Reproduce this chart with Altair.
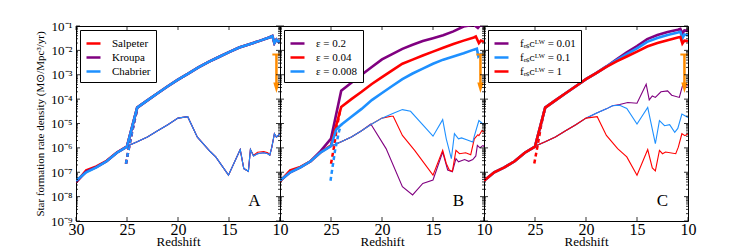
import altair as alt
import pandas as pd

FONT = "Liberation Serif"
RED = "#ff0000"
PURPLE = "#800080"
BLUE = "#1e90ff"
ORANGE = "#ff8c00"
W, H = 204, 195

# ---------------- data (log10 of SFR density) ----------------
# Panel A : IMF
A_labels = ["Salpeter", "Kroupa", "Chabrier"]
A_z_thick = [30, 29, 28, 27, 26, 25, 24, 23, 22, 21, 20, 19, 18, 17, 16, 15, 14, 13, 12, 11, 10.75, 10.55, 10.35, 10.15, 10.0]
A_salp_thick = [-7.42, -6.92, -6.76, -6.53, -6.19, -5.94, -4.35, -4.05, -3.76, -3.47, -3.2, -2.95, -2.7, -2.47, -2.27, -2.07, -1.88, -1.75, -1.61, -1.46, -1.41, -1.70, -1.56, -1.65, -1.6]
A_krou_thick = [-7.40, -6.97, -6.79, -6.55, -6.20, -5.95, -4.35, -4.05, -3.76, -3.47, -3.2, -2.95, -2.7, -2.47, -2.27, -2.07, -1.88, -1.75, -1.61, -1.46, -1.41, -1.70, -1.56, -1.65, -1.6]
A_chab_thick = [-7.35, -7.0, -6.8, -6.55, -6.2, -5.95, -4.35, -4.05, -3.76, -3.47, -3.2, -2.95, -2.7, -2.47, -2.27, -2.07, -1.88, -1.75, -1.61, -1.46, -1.41, -1.70, -1.56, -1.65, -1.6]
A_z_thin = [30, 29, 28, 27, 26, 25, 24, 23, 22, 21, 20, 19.05, 18.1, 16.8, 16.3, 15.05, 13.9, 13.55, 13.1, 12.9, 12.6, 12.2, 11.6, 11.2, 11.0, 10.8, 10.55, 10.35, 10.0]
A_salp_thin = [-7.42, -6.92, -6.76, -6.53, -6.19, -5.93, -5.75, -5.55, -5.3, -5.05, -4.78, -4.72, -5.56, -6.17, -6.37, -7.12, -6.07, -6.85, -6.96, -6.07, -6.30, -6.18, -6.15, -6.2, -6.3, -5.97, -5.42, -5.56, -5.42]
A_krou_thin = [-7.40, -6.97, -6.79, -6.55, -6.2, -5.93, -5.75, -5.55, -5.3, -5.05, -4.78, -4.72, -5.56, -6.17, -6.37, -7.12, -6.07, -6.85, -6.96, -6.07, -6.33, -6.24, -6.2, -6.24, -6.3, -5.97, -5.42, -5.56, -5.42]
A_chab_thin = [-7.35, -7.0, -6.8, -6.55, -6.2, -5.93, -5.75, -5.55, -5.3, -5.05, -4.78, -4.72, -5.56, -6.17, -6.37, -7.12, -6.07, -6.85, -6.96, -6.07, -6.33, -6.24, -6.2, -6.24, -6.3, -5.97, -5.42, -5.56, -5.42]
A_z_dash = [25.1, 24.7, 24.3, 24.0]
A_dash = [-6.65, -5.75, -4.95, -4.4]

# Panel B : star formation efficiency
B_labels = ["ε = 0.2", "ε = 0.04", "ε = 0.008"]
B_z_purple_thick = [30, 29, 28, 27, 26, 25, 24, 23, 22, 21, 20, 19, 18, 17, 16, 15, 14, 13, 12, 11, 10.6, 10.4, 10.0]
B_purple_thick = [-7.35, -7.0, -6.8, -6.55, -6.12, -5.62, -3.66, -3.33, -3.0, -2.68, -2.37, -2.15, -1.94, -1.77, -1.62, -1.5, -1.38, -1.22, -1.02, -0.95, -1.08, -0.98, -1.0]
B_z_red_thick = [30, 29, 28, 27, 26, 25, 24.5, 24, 23, 22, 21, 20, 19, 18, 17, 16, 15, 14, 13, 12, 11, 10.8, 10.5, 10.3, 10.0]
B_red_thick = [-7.38, -6.92, -6.78, -6.55, -6.18, -5.9, -5.1, -4.32, -4.0, -3.7, -3.38, -3.1, -2.82, -2.55, -2.38, -2.21, -2.05, -1.89, -1.74, -1.6, -1.47, -1.43, -1.70, -1.6, -1.65]
B_z_blue_thick = [30, 29, 28, 27, 26, 25, 24.5, 24, 23, 22, 21, 20, 19, 18, 17, 16, 15, 14, 13, 12, 11, 10.7, 10.55, 10.3, 10.0]
B_blue_thick = [-7.35, -7.0, -6.8, -6.55, -6.18, -5.93, -5.25, -5.05, -4.72, -4.4, -4.04, -3.75, -3.46, -3.18, -2.95, -2.75, -2.55, -2.38, -2.25, -2.12, -1.97, -1.93, -2.25, -2.15, -2.2]
B_z_purple_thin = [26, 25, 24, 23, 22, 21.1, 19.6, 18.0, 17.0, 16.0, 15.0, 14.05, 13.56, 13.1, 12.75, 12.5, 11.9, 11.5, 11.1, 10.8, 10.65, 10.4, 10.1, 10.0]
B_purple_thin = [-6.18, -5.93, -5.75, -5.55, -5.3, -5.02, -6.03, -7.59, -7.93, -7.46, -7.32, -6.17, -6.91, -6.98, -6.44, -6.57, -6.48, -6.55, -6.48, -6.33, -5.9, -6.0, -5.9, -5.95]
B_z_red_thin = [26, 25, 24, 23, 22, 21, 20, 19.1, 18.9, 18.0, 16.8, 15.0, 14.05, 13.7, 13.4, 13.1, 12.75, 12.4, 11.8, 11.3, 10.95, 10.6, 10.5, 10.2, 10.0]
B_red_thin = [-6.18, -5.93, -5.75, -5.55, -5.3, -5.02, -4.78, -4.70, -4.70, -5.49, -6.1, -7.12, -6.1, -6.64, -6.91, -6.96, -6.1, -6.24, -6.2, -6.28, -5.63, -5.46, -5.5, -5.29, -5.35]
B_z_blue_thin = [26, 25, 24, 23, 22, 21, 20, 19, 18.0, 17.2, 15.0, 14.05, 13.7, 13.2, 12.9, 12.5, 12.2, 11.7, 11.1, 10.95, 10.5, 10.1, 10.0]
B_blue_thin = [-6.18, -5.93, -5.75, -5.55, -5.3, -5.02, -4.78, -4.6, -4.43, -4.5, -5.52, -4.84, -5.63, -6.44, -5.42, -5.63, -5.59, -5.67, -5.76, -5.52, -4.88, -5.02, -5.0]
B_z_red_dash = [25.0, 24.7, 24.4, 24.1]
B_red_dash = [-6.65, -5.95, -5.1, -4.45]
B_z_blue_dash = [25.05, 24.6, 24.2, 24.0]
B_blue_dash = [-7.35, -6.1, -5.3, -5.05]

# Panel C : LW escape fraction
C_labels = ["fₑₛᴄᴸᵂ = 0.01", "fₑₛᴄᴸᵂ = 0.1", "fₑₛᴄᴸᵂ = 1"]
C_z_thick = [30, 29, 28, 27, 26, 25, 24, 23, 22, 21, 20, 19, 18, 17, 16, 15, 14, 13, 12, 11, 10.75, 10.55, 10.35, 10.0]
C_purple_thick = [-7.35, -7.0, -6.8, -6.55, -6.2, -5.95, -4.35, -4.05, -3.76, -3.47, -3.18, -2.93, -2.66, -2.37, -2.08, -1.82, -1.54, -1.37, -1.25, -1.15, -1.12, -1.30, -1.18, -1.2]
C_blue_thick = [-7.35, -7.0, -6.8, -6.55, -6.2, -5.95, -4.35, -4.05, -3.76, -3.47, -3.18, -2.93, -2.67, -2.40, -2.15, -1.92, -1.65, -1.49, -1.37, -1.27, -1.24, -1.50, -1.35, -1.38]
C_red_thick = [-7.35, -7.0, -6.8, -6.55, -6.2, -5.95, -4.35, -4.05, -3.76, -3.47, -3.18, -2.93, -2.68, -2.45, -2.25, -2.05, -1.84, -1.70, -1.58, -1.47, -1.45, -1.72, -1.6, -1.62]
C_z_red_thin = [26, 25, 24, 23, 22, 21, 20, 18.9, 18.0, 16.9, 16.0, 15.0, 13.95, 13.5, 13.2, 12.8, 12.5, 12.2, 11.2, 10.95, 10.6, 10.3, 10.0]
C_red_thin = [-6.2, -5.93, -5.75, -5.55, -5.3, -5.05, -4.78, -4.72, -5.49, -6.03, -6.37, -7.12, -6.07, -6.82, -6.94, -6.1, -6.24, -6.17, -6.24, -5.97, -5.42, -5.5, -5.42]
C_z_blue_thin = [26, 25, 24, 23, 22, 21, 20, 19, 18, 17.4, 16.7, 16.0, 15.0, 13.95, 13.2, 12.8, 12.3, 11.8, 11.3, 11.0, 10.6, 10.3, 10.0]
C_blue_thin = [-6.2, -5.93, -5.75, -5.55, -5.3, -5.05, -4.78, -4.58, -4.4, -4.27, -4.25, -4.38, -5.02, -4.34, -5.83, -4.88, -5.09, -5.05, -5.36, -5.2, -4.61, -4.68, -4.75]
C_z_purple_thin = [26, 25, 24, 23, 22, 21, 20, 19, 18, 17.4, 16.7, 15.9, 15.0, 14.1, 13.8, 13.5, 13.2, 12.65, 12.0, 11.6, 10.85, 10.5, 10.2, 10.0]
C_purple_thin = [-6.2, -5.93, -5.75, -5.55, -5.3, -5.05, -4.78, -4.58, -4.4, -4.27, -4.22, -4.14, -4.17, -3.39, -4.03, -3.87, -3.93, -3.70, -3.66, -3.84, -3.93, -3.39, -3.46, -3.45]
C_z_dash = [25.07, 24.7, 24.4, 24.1]
C_dash = [-6.64, -5.8, -5.08, -4.5]

# observational upper limit (orange)
LIM_z = [10.35]
LIM_top = [-2.17]
LIM_shaft = [-3.35]
LIM_head = [-3.53]
LIM_cap = [10.75, 9.95]

LETTER_z = [12.5]
LETTER_y = [-8.17]

Y_MAJOR = [-9, -8, -7, -6, -5, -4, -3, -2, -1]
X_A_TICKS = [30, 25, 20, 15, 10]
X_BC_TICKS = [25, 20, 15, 10]


def df(z, logv, name):
    return pd.DataFrame({"z": z, "sfr": [10.0 ** v for v in logv], "series": name})


xscale = alt.Scale(domain=[10, 30], reverse=True, nice=False, zero=False)
yscale = alt.Scale(type="log", domain=[1e-9, 1e-1], nice=False)

sup = "['⁻¹','⁻²','⁻³','⁻⁴','⁻⁵','⁻⁶','⁻⁷','⁻⁸','⁻⁹']"
y_axis_A = alt.Axis(
    values=[10.0 ** e for e in Y_MAJOR],
    labelExpr="'10' + " + sup + "[round(-log(datum.value)/LN10) - 1]",
    title="Star formation rate density (M⊙/Mpc³/yr)",
    ticks=False, tickSize=0, domain=False, grid=False,
    labelFont=FONT, labelFontSize=13, labelColor="black", labelPadding=4,
    titleFont=FONT, titleFontSize=11, titleFontWeight="normal", titleColor="black", titlePadding=5,
)

minor_vals = [k * 10.0 ** e for e in range(-9, -1) for k in range(2, 10)]
major_vals = [10.0 ** e for e in Y_MAJOR]


def x_axis(vals):
    return alt.Axis(
        values=vals, format="d", title="Redshift",
        ticks=False, tickSize=0, domain=False, grid=False,
        labelFont=FONT, labelFontSize=16, labelColor="black", labelPadding=0,
        labelFlush=False, labelOverlap=False, labelBound=False,
        titleFont=FONT, titleFontSize=13, titleFontWeight="normal", titleColor="black",
        titleY=24, titleBaseline="alphabetic",
    )


def panel(labels, colors, thin, thick, dashed, letter, xvals, show_y):
    xa = x_axis(xvals)
    ya = y_axis_A if show_y else None
    X = lambda f="z": alt.X(f + ":Q", scale=xscale, axis=xa)
    Y = lambda f="sfr": alt.Y(f + ":Q", scale=yscale, axis=ya)
    legend = alt.Legend(
        title=None, orient="top-left", offset=4, padding=5,
        strokeColor="black", fillColor="white", cornerRadius=0,
        symbolType="stroke", symbolSize=196, symbolStrokeWidth=2.5,
        labelFont=FONT, labelFontSize=11, labelColor="black", labelOffset=10,
        rowPadding=0, labelLimit=200,
    )
    color = alt.Color("series:N", scale=alt.Scale(domain=labels, range=colors), legend=legend)
    layers = []
    for d in thin:
        layers.append(alt.Chart(d).mark_line(strokeWidth=1.1, clip=True).encode(x=X(), y=Y(), color=color))
    for d in dashed:
        layers.append(alt.Chart(d).mark_line(strokeWidth=2.5, strokeDash=[4, 3], clip=True).encode(x=X(), y=Y(), color=color))
    for d in thick:
        layers.append(alt.Chart(d).mark_line(strokeWidth=2.6, clip=True).encode(x=X(), y=Y(), color=color))

    lim = pd.DataFrame({"z": LIM_z, "top": [10.0 ** v for v in LIM_top],
                        "shaft": [10.0 ** v for v in LIM_shaft], "head": [10.0 ** v for v in LIM_head],
                        "c0": [LIM_cap[0]], "c1": [LIM_cap[1]]})
    layers.append(alt.Chart(lim).mark_rule(color=ORANGE, strokeWidth=2.5).encode(x=X(), y=Y("top"), y2="shaft:Q"))
    layers.append(alt.Chart(lim).mark_rule(color=ORANGE, strokeWidth=2, clip=True).encode(x=X("c0"), x2="c1:Q", y=Y("top")))
    layers.append(alt.Chart(lim).mark_point(shape="M-0.6,-1L0.6,-1L0,1Z", filled=True, color=ORANGE, opacity=1,
                                            size=110, strokeWidth=0).encode(x=X(), y=Y("head")))

    let = pd.DataFrame({"z": LETTER_z, "sfr": [10.0 ** v for v in LETTER_y], "t": [letter]})
    layers.append(alt.Chart(let).mark_text(font=FONT, fontSize=17, color="black", align="center",
                                           baseline="middle").encode(x=X(), y=Y(), text="t:N"))

    # inward tick marks on all four sides
    ymaj = pd.DataFrame({"v": major_vals})
    ymin = pd.DataFrame({"v": minor_vals})
    xt = pd.DataFrame({"z": X_A_TICKS})
    for dd, ln in ((ymaj, 4), (ymin, 2)):
        layers.append(alt.Chart(dd).mark_rule(color="black", strokeWidth=0.8).encode(
            y=Y("v"), x=alt.value(0), x2=alt.value(ln)))
        layers.append(alt.Chart(dd).mark_rule(color="black", strokeWidth=0.8).encode(
            y=Y("v"), x=alt.value(W - ln), x2=alt.value(W)))
    layers.append(alt.Chart(xt).mark_rule(color="black", strokeWidth=0.8).encode(
        x=X(), y=alt.value(0), y2=alt.value(4)))
    layers.append(alt.Chart(xt).mark_rule(color="black", strokeWidth=0.8).encode(
        x=X(), y=alt.value(H - 4), y2=alt.value(H)))
    return alt.layer(*layers).properties(width=W, height=H)


pA = panel(
    A_labels, [RED, PURPLE, BLUE],
    thin=[df(A_z_thin, A_salp_thin, A_labels[0]), df(A_z_thin, A_krou_thin, A_labels[1]), df(A_z_thin, A_chab_thin, A_labels[2])],
    thick=[df(A_z_thick, A_salp_thick, A_labels[0]), df(A_z_thick, A_krou_thick, A_labels[1]), df(A_z_thick, A_chab_thick, A_labels[2])],
    dashed=[df(A_z_dash, A_dash, A_labels[0]), df(A_z_dash, A_dash, A_labels[1]), df(A_z_dash, A_dash, A_labels[2])],
    letter="A", xvals=X_A_TICKS, show_y=True,
)
pB = panel(
    B_labels, [PURPLE, RED, BLUE],
    thin=[df(B_z_purple_thin, B_purple_thin, B_labels[0]), df(B_z_red_thin, B_red_thin, B_labels[1]), df(B_z_blue_thin, B_blue_thin, B_labels[2])],
    thick=[df(B_z_purple_thick, B_purple_thick, B_labels[0]), df(B_z_red_thick, B_red_thick, B_labels[1]), df(B_z_blue_thick, B_blue_thick, B_labels[2])],
    dashed=[df(B_z_red_dash, B_red_dash, B_labels[1]), df(B_z_blue_dash, B_blue_dash, B_labels[2])],
    letter="B", xvals=X_BC_TICKS, show_y=False,
)
pC = panel(
    C_labels, [PURPLE, BLUE, RED],
    thin=[df(C_z_purple_thin, C_purple_thin, C_labels[0]), df(C_z_blue_thin, C_blue_thin, C_labels[1]), df(C_z_red_thin, C_red_thin, C_labels[2])],
    thick=[df(C_z_thick, C_purple_thick, C_labels[0]), df(C_z_thick, C_blue_thick, C_labels[1]), df(C_z_thick, C_red_thick, C_labels[2])],
    dashed=[df(C_z_dash, C_dash, C_labels[2])],
    letter="C", xvals=X_BC_TICKS, show_y=False,
)

chart = (
    alt.hconcat(pA, pB, pC, spacing=0, bounds="flush")
    .resolve_scale(color="independent")
    .properties(padding={"left": 25, "top": 11, "right": 5, "bottom": 0}, background="white")
    .configure_view(stroke="black", strokeWidth=1)
)

chart.save("out.html", embed_options={"renderer": "svg", "actions": False})
